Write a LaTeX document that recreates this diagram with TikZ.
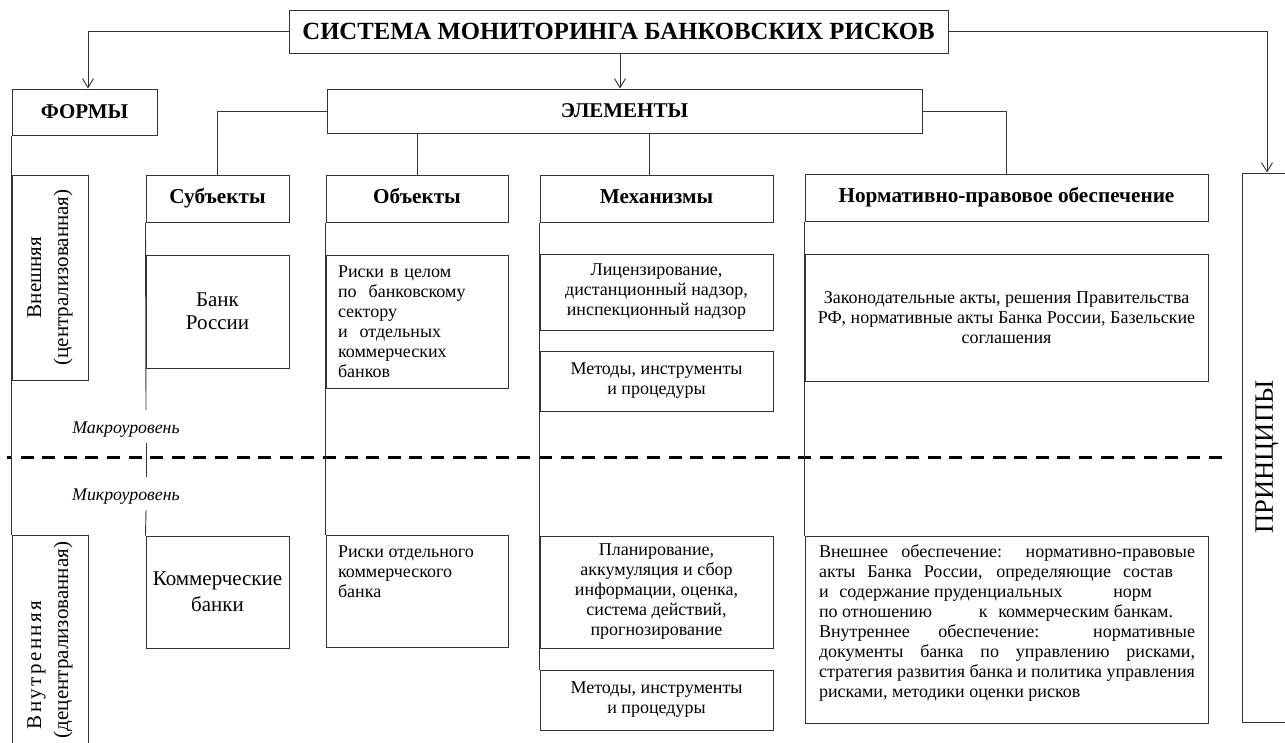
\documentclass[tikz,border=0pt]{standalone}
\usepackage{fontspec}
\setmainfont{Liberation Serif}
\usetikzlibrary{arrows.meta}
\newcommand{\myfs}[2]{\fontsize{#1pt}{#2pt}\selectfont}
\begin{document}
\begin{tikzpicture}[x=1pt,y=-1pt,
  bx/.style={draw=black!80, line width=1pt, inner sep=0pt, align=center},
  hd/.style={bx, font=\myfs{21.2}{23}\bfseries, text height=14pt, text depth=4.5pt},
  tx/.style={bx, font=\myfs{18}{20}},
  con/.style={draw=black!80, line width=0.9pt},
  arr/.style={con, -{Straight Barb[length=9pt,width=11pt,line width=0.9pt]}},
  lvl/.style={inner sep=0pt, font=\myfs{17.8}{20}\itshape},
]
\useasboundingbox (0,0) rectangle (1285,742);

% top level
\node[bx, font=\myfs{24.7}{27}\bfseries, minimum width=659pt, minimum height=43pt] (title) at (618.5,31.5) {СИСТЕМА МОНИТОРИНГА БАНКОВСКИХ РИСКОВ};
\node[bx, font=\myfs{21}{23}\bfseries, minimum width=145pt, minimum height=46pt] (formy) at (84.5,112) {ФОРМЫ};
\node[bx, font=\myfs{21}{23}\bfseries, minimum width=595pt, minimum height=44pt] (elem) at (624.5,111) {ЭЛЕМЕНТЫ};

% forms
\node[bx, rotate=90, font=\myfs{21}{27}, minimum width=205pt, minimum height=76pt] (vnesh) at (50,277.5) {Внешняя\\(централизованная)};
\node[bx, rotate=90, font=\myfs{21}{27}, align=left, minimum width=210pt, minimum height=76pt] (vnutr) at (50,640)
  {\hspace*{9pt}\makebox[128pt][s]{В\hfil н\hfil у\hfil т\hfil р\hfil е\hfil н\hfil н\hfil я\hfil я}\\(децентрализованная)};

% subjects
\node[hd, minimum width=143pt, minimum height=47pt] (subj) at (217.5,198.5) {Субъекты};
\node[bx, font=\myfs{21}{23}, minimum width=143pt, minimum height=113pt] (bank) at (217.5,311.5) {Банк\\России};
\node[bx, font=\myfs{21}{26}, minimum width=143pt, minimum height=112pt] (comm) at (217.5,592) {Коммерческие\\банки};

% objects
\node[hd, minimum width=182pt, minimum height=47pt] (obj) at (417,198.5) {Объекты};
\node[tx, minimum width=182pt, minimum height=133pt, text width=158pt, align=left] (risk1) at (417,321.5)
  {Риски в целом\\по\ \ банковскому\\сектору\\и\ \ отдельных\\коммерческих\\банков};
\node[bx, font=\myfs{18}{20}] (risk2) at (417,591)
  {\parbox[c][112pt][t]{182pt}{\vspace*{11pt}\hspace*{12pt}\parbox[t]{165pt}{Риски отдельного\\коммерческого\\банка}}};

% mechanisms
\node[hd, minimum width=233pt, minimum height=47pt] (mech) at (656.5,198.5) {Механизмы};
\node[tx, minimum width=233pt, minimum height=76pt] (lic) at (656.5,292) {Лицензирование,\\дистанционный надзор,\\инспекционный надзор};
\node[tx, minimum width=233pt, minimum height=60pt] (met1) at (656.5,381) {Методы, инструменты\\и процедуры};
\node[tx, minimum width=233pt, minimum height=112pt] (plan) at (656.5,592) {Планирование,\\аккумуляция и сбор\\информации, оценка,\\система действий,\\прогнозирование};
\node[tx, minimum width=233pt, minimum height=60pt] (met2) at (656.5,700) {Методы, инструменты\\и процедуры};

% legal
\node[hd, minimum width=403pt, minimum height=47pt] (norm) at (1006.5,197.5) {Нормативно-правовое обеспечение};
\node[tx, minimum width=403pt, minimum height=127pt] (laws) at (1006.5,317.5) {Законодательные акты, решения Правительства\\РФ, нормативные акты Банка России, Базельские\\соглашения};
\node[bx, font=\myfs{18}{20}] (ext) at (1006.5,629.5)
  {\parbox[c][187pt][t]{403pt}{\vspace*{9pt}\hspace*{14pt}\parbox[t]{376pt}{\raggedright
  \makebox[376pt][s]{Внешнее обеспечение: нормативно-правовые}\\
  \makebox[354pt][s]{акты Банка России, определяющие состав}\\
  \makebox[333pt][s]{и\hspace{0.6em}содержание пруденциальных\hspace{0pt plus 1fil}норм}\\
  \makebox[354pt][s]{по отношению\hspace{0pt plus 1fil}к\hspace{0.6em}коммерческим банкам.}\\
  \makebox[376pt][s]{Внутреннее обеспечение: нормативные}\\
  \makebox[376pt][s]{документы банка по управлению рисками,}\\
  \makebox[376pt][s]{стратегия развития банка и политика управления}\\
  рисками, методики оценки рисков}}};

% principles
\node[bx, rotate=90, font=\myfs{26.5}{28}, minimum width=549pt, minimum height=50pt] (princ) at (1267,447.5) {ПРИНЦИПЫ\hspace*{19pt}};

% level labels
\node[lvl] (macro) at (126,430) {Макроуровень};
\node[lvl] (micro) at (126,497) {Микроуровень};

% level separator
\draw[line width=3pt, dash pattern=on 13pt off 8.6pt, dash phase=8pt] (7,457) -- (1222,457);

% connectors from title
\draw[arr] (title.west) -| ([xshift=3.5pt]formy.north);
\draw[arr] (title.south -| 620,0) -- (elem.north -| 620,0);
\draw[arr] (title.east) -| (princ.east);

% connectors from elements
\draw[con] (elem.west) -| (subj.north);
\draw[con] (elem.south -| obj.north) -- (obj.north);
\draw[con] (elem.south -| 649,0) -- (mech.north -| 649,0);
\draw[con] (elem.east) -| (norm.north);

% vertical spines
\draw[con] (formy.south west) -- (vnutr.north east);
\coordinate (s1) at (146,410);
\coordinate (s2) at (146,443);
\coordinate (s3) at (146,477);
\coordinate (s4) at (146,510);
\draw[con] (subj.south west) -- (s1);
\draw[con] (s2) -- (s3);
\draw[con] (s4) -- (comm.north west);
\draw[con] (obj.south west) -- (risk2.north west);
\draw[con] (mech.south west) -- (met2.north west);
\draw[con] (norm.south west) -- (ext.north west);
\end{tikzpicture}
\end{document}
